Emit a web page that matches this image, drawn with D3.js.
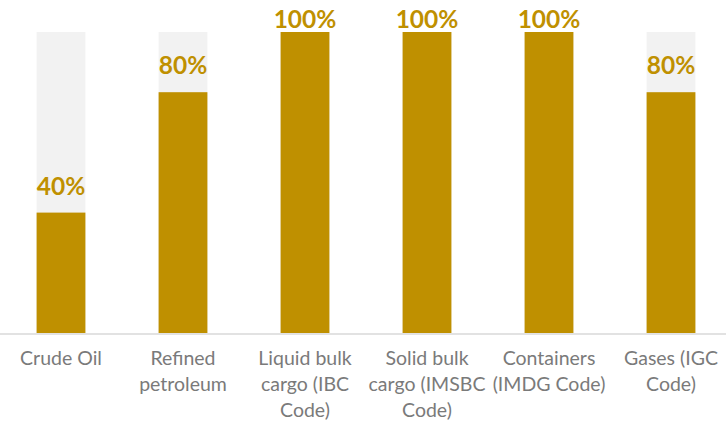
<!DOCTYPE html>
<html>
<head>
<meta charset="utf-8">
<script src="https://cdn.jsdelivr.net/npm/d3@7"></script>
<style>
  html, body { margin: 0; padding: 0; background: #fff; }
  svg { display: block; }
</style>
</head>
<body>
<svg id="chart" width="726" height="427"></svg>
<script>
const categories = ["Crude Oil", "Refined petroleum", "Liquid bulk cargo (IBC Code)", "Solid bulk cargo (IMSBC Code)", "Containers (IMDG Code)", "Gases (IGC Code)"];
const categoryLines = [
  ["Crude Oil"],
  ["Refined", "petroleum"],
  ["Liquid bulk", "cargo (IBC", "Code)"],
  ["Solid bulk", "cargo (IMSBC", "Code)"],
  ["Containers", "(IMDG Code)"],
  ["Gases (IGC", "Code)"]
];
const values = [0.40, 0.80, 1.00, 1.00, 1.00, 0.80];
const backgroundValues = [1, 1, 1, 1, 1, 1];

const svg = d3.select("#chart");
const W = 726, H = 427;
const baseY = 333, topY = 32;

const x = d3.scaleBand().domain(categories).range([0, 732]).paddingInner(0.6).paddingOuter(0.3);
const y = d3.scaleLinear().domain([0, 1]).range([baseY, topY]);

const gold = "#BF9000";

// background bars
svg.append("g").selectAll("rect").data(categories).join("rect")
  .attr("x", d => x(d))
  .attr("width", x.bandwidth())
  .attr("y", (d, i) => y(backgroundValues[i]))
  .attr("height", (d, i) => baseY - y(backgroundValues[i]))
  .attr("fill", "#F2F2F2");

// value bars
svg.append("g").selectAll("rect").data(categories).join("rect")
  .attr("x", d => x(d))
  .attr("width", x.bandwidth())
  .attr("y", (d, i) => y(values[i]))
  .attr("height", (d, i) => baseY - y(values[i]))
  .attr("fill", gold);

// value labels
const fmt = d3.format(".0%");
svg.append("g").selectAll("text").data(categories).join("text")
  .attr("x", d => x(d) + x.bandwidth() / 2)
  .attr("y", (d, i) => Math.max(y(values[i]) - 18, 28))
  .attr("text-anchor", "middle")
  .attr("font-family", "Lato, 'Open Sans', sans-serif")
  .attr("font-weight", "bold")
  .attr("font-size", 24.5)
  .attr("fill", gold)
  .text((d, i) => fmt(values[i]));

// x axis
const axis = d3.axisBottom(x).tickSize(0).tickFormat("");
const gx = svg.append("g").attr("transform", `translate(0,${baseY + 1})`).call(axis);
gx.select(".domain").remove();
gx.append("line").attr("x1", 0).attr("x2", W).attr("y1", 0).attr("y2", 0)
  .attr("stroke", "#D9D9D9").attr("stroke-width", 1.5);

gx.selectAll(".tick").each(function(d, i) {
  const t = d3.select(this).append("text")
    .attr("text-anchor", "middle")
    .attr("font-family", "Lato, 'Open Sans', sans-serif")
    .attr("font-size", 19.5)
    .attr("fill", "#7A7A7A");
  categoryLines[i].forEach((line, j) => {
    t.append("tspan").attr("x", 0).attr("y", 31 + j * 26).text(line);
  });
});
</script>
</body>
</html>
